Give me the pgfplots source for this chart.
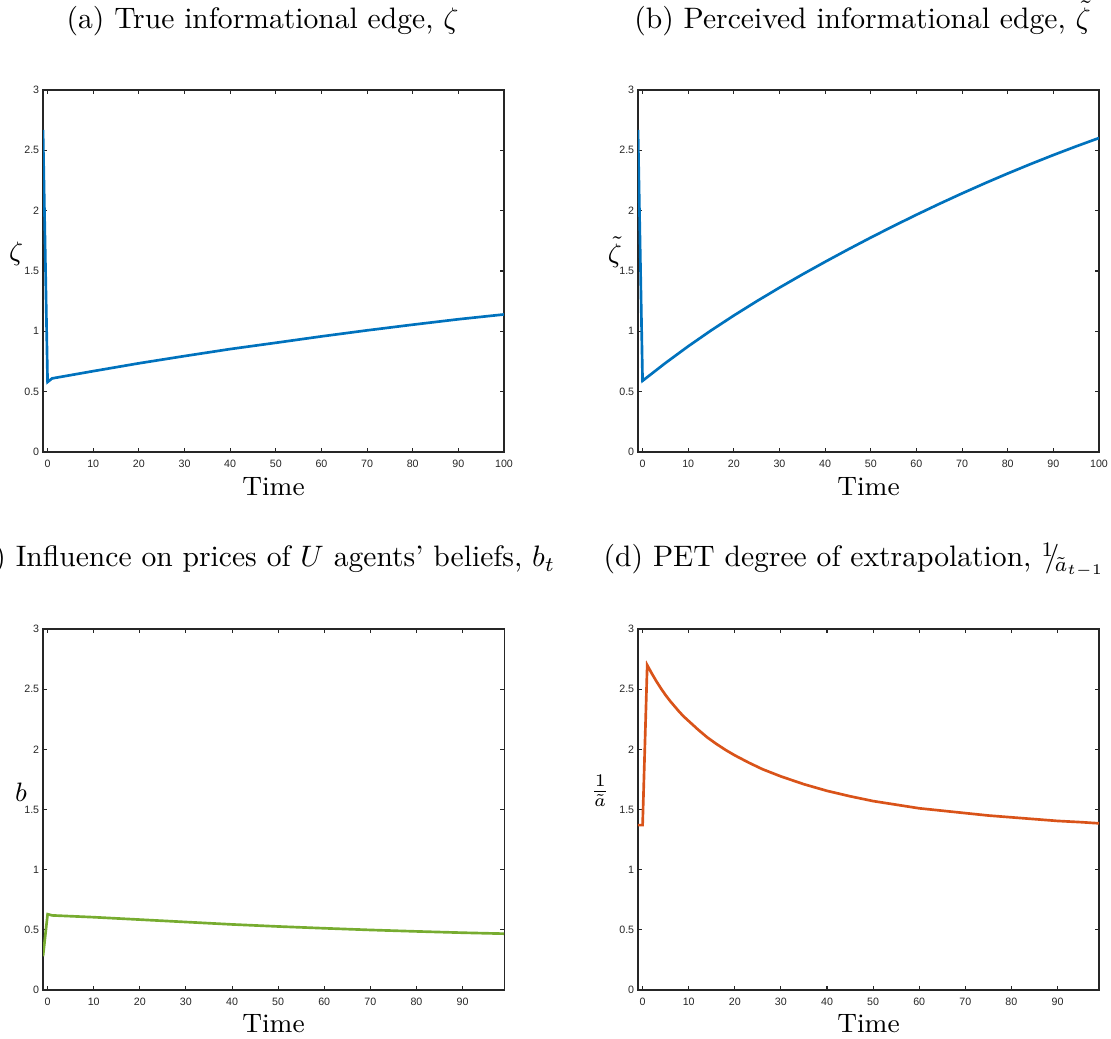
\documentclass[border=0pt]{standalone}
\usepackage{pgfplots}
\pgfplotsset{compat=1.18}
\usepackage{fontspec}
\newfontfamily\ticksf{Liberation Sans}

\definecolor{mblue}{rgb}{0,0.447,0.741}
\definecolor{morange}{rgb}{0.85,0.325,0.098}
\definecolor{mgreen}{rgb}{0.466,0.674,0.188}
\definecolor{axgray}{rgb}{0.15,0.15,0.15}

\pgfplotsset{
  panel/.style={
    scale only axis, width=155.74pt, anchor=south west,
    xmin=-1, ymin=0, ymax=3,
    ytick={0,0.5,1,1.5,2,2.5,3},
    axis line style={axgray, line width=0.35pt},
    every tick/.style={axgray, line width=0.35pt},
    major tick length=1.5pt,
    tick label style={font=\ticksf\fontsize{3.6}{4}\selectfont, text=axgray, inner sep=0pt},
    /pgf/number format/assume math mode=true,
    xticklabel style={yshift=-2.5pt},
    yticklabel style={xshift=-1.1pt},
    xlabel={Time},
    label style={font=\fontsize{9}{11}\selectfont},
    xlabel style={at={(rel axis cs:0.5,-0.119)}, anchor=base, inner sep=0pt},
    ylabel style={rotate=-90, anchor=center, inner sep=0pt},
  },
  curve/.style={line width=0.9pt, no markers},
}

\begin{document}
\begin{tikzpicture}
% (a)
\begin{axis}[panel, at={(14.53pt,-152.70pt)}, height=122.30pt,
  xmax=100, xtick={0,10,...,100},
  ylabel={$\zeta$}, ylabel style={at={(rel axis cs:-0.0586,0.548)}}]
\addplot[curve, mblue] coordinates {
  (-1,2.67) (0,0.58) (1,0.61) (10,0.67) (20,0.735) (30,0.795) (40,0.853)
  (50,0.905) (60,0.958) (70,1.008) (80,1.055) (90,1.10) (100,1.14)};
\end{axis}
% (b)
\begin{axis}[panel, at={(215.54pt,-152.70pt)}, height=122.30pt,
  xmax=100, xtick={0,10,...,100},
  ylabel={$\tilde{\zeta}$}, ylabel style={at={(rel axis cs:-0.05,0.552)}}]
\addplot[curve, mblue] coordinates {
  (-1,2.67) (0,0.59) (5,0.737) (10,0.876) (15,1.007) (20,1.131) (25,1.249)
  (30,1.362) (35,1.471) (40,1.576) (45,1.678) (50,1.777) (55,1.873)
  (60,1.966) (65,2.056) (70,2.143) (75,2.227) (80,2.308) (85,2.386)
  (90,2.461) (95,2.533) (100,2.602)};
\end{axis}
% (c)
\begin{axis}[panel, at={(14.53pt,-334.46pt)}, height=121.96pt,
  xmax=99, xtick={0,10,...,90},
  ylabel={$b$}, ylabel style={at={(rel axis cs:-0.0477,0.548)}}]
\addplot[curve, mgreen] coordinates {
  (-1,0.28) (0,0.63) (1,0.62) (10,0.605) (20,0.585) (30,0.565) (40,0.545)
  (50,0.528) (60,0.513) (70,0.499) (80,0.487) (90,0.476) (99,0.468)};
\end{axis}
% (d)
\begin{axis}[panel, at={(215.54pt,-334.46pt)}, height=121.96pt,
  xmax=99, xtick={0,10,...,90},
  ylabel={$\frac{1}{\tilde{a}}$}, ylabel style={at={(rel axis cs:-0.082,0.551)}}]
\addplot[curve, morange] coordinates {
  (-1,1.37) (0,1.37) (1,2.70) (2,2.63) (3,2.565) (4,2.505) (5,2.45) (6,2.40)
  (7,2.355) (8,2.31) (9,2.27) (10,2.235) (12,2.165) (14,2.10) (16,2.045)
  (18,1.995) (20,1.95) (23,1.89) (26,1.835) (30,1.775) (35,1.71) (40,1.655)
  (45,1.61) (50,1.57) (55,1.54) (60,1.51) (65,1.49) (70,1.47) (75,1.45)
  (80,1.435) (85,1.42) (90,1.405) (95,1.395) (99,1.385)};
\end{axis}
% panel titles, centred over each panel
\node[anchor=base, inner sep=0pt] at (88.7pt,-9.46pt)
  {(a) True informational edge, $\zeta$};
\node[anchor=base, inner sep=0pt] at (291.4pt,-9.46pt)
  {(b) Perceived informational edge, $\tilde{\zeta}$};
\node[anchor=base, inner sep=0pt] at (88.7pt,-191.55pt)
  {(c) Influence on prices of $U$ agents' beliefs, $b_t$};
\node[anchor=base, inner sep=0pt] at (288.6pt,-191.55pt)
  {(d) PET degree of extrapolation, ${}^{1}\!\!/\!_{\tilde{a}_{t-1}}$};
\pgfresetboundingbox
\useasboundingbox (0pt,0pt) rectangle (375.34pt,-350.68pt);
\end{tikzpicture}
\end{document}
